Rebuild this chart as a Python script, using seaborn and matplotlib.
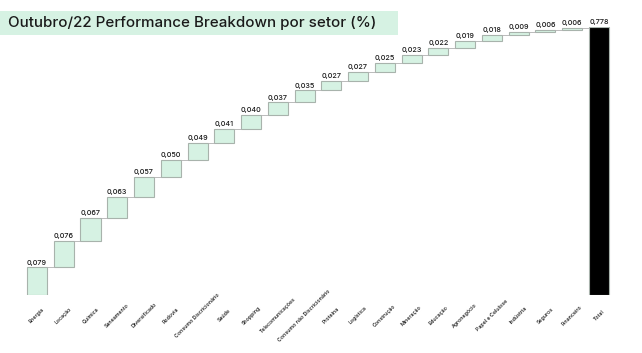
import matplotlib
matplotlib.use("Agg")
import matplotlib.pyplot as plt
import seaborn as sns
import numpy as np
import pandas as pd
from matplotlib.patches import Rectangle

sectors = ["Energia", "Locação", "Química", "Saneamento", "Diversificado", "Rodovia",
           "Consumo Discricionário", "Saúde", "Shopping", "Telecomunicações",
           "Consumo não Discricionário", "Proteína", "Logística", "Construção",
           "Mineração", "Educação", "Agronegócio", "Papel e Celulose", "Indústria",
           "Seguros", "Financeiro"]
values = [0.079, 0.076, 0.067, 0.063, 0.057, 0.050, 0.049, 0.041, 0.040, 0.037,
          0.035, 0.027, 0.027, 0.025, 0.023, 0.022, 0.019, 0.018, 0.009, 0.006, 0.006]
total_label = "Total"
total_value = 0.778

sns.set_theme(style="white")
plt.rcParams['font.family'] = ['DejaVu Sans']

cats = sectors + [total_label]
vals = values + [total_value]
cum = np.cumsum(values)
bottoms = list(np.concatenate([[0], cum[:-1]])) + [0.0]
tops = [b + v for b, v in zip(bottoms, vals)]
df = pd.DataFrame({"setor": cats, "valor": vals})

fig = plt.figure(figsize=(6.42, 3.53), dpi=100)
ax = fig.add_axes([0.0368, 0.1657, 0.917, 0.7578])

sns.barplot(data=df, x="setor", y="valor", color="#d6f2e3", saturation=1,
            bottom=np.array(bottoms), width=0.75, edgecolor="#a8b3ac", linewidth=0.8,
            ax=ax, errorbar=None)
ax.patches[-1].set_facecolor("#000000")

# connectors
for i in range(len(cats) - 1):
    ax.plot([i + 0.375, i + 1 - 0.375], [tops[i], tops[i]], color="#b0b0b0", lw=0.6)

for i, (t, v) in enumerate(zip(tops, vals)):
    ax.text(i, t + 0.005, f"{v:.3f}".replace(".", ","), ha="center", va="bottom",
            fontsize=5.2, color="#1a1a1a", clip_on=False, family=["Inter", "DejaVu Sans"],
            fontweight="medium")

ax.set_xlim(-0.5, len(cats) - 0.5)
ax.set_ylim(0, total_value)
ax.set_xlabel("")
ax.set_ylabel("")
ax.set_yticks([])
ax.set_xticks(range(len(cats)))
ax.set_xticklabels(cats, rotation=45, ha="center", va="center", rotation_mode="anchor",
                   fontsize=3.8, color="#111111", family=["Inter", "DejaVu Sans"],
                   fontweight="medium")
ax.tick_params(axis="x", length=0, pad=15)
for s in ax.spines.values():
    s.set_visible(False)

fig.patches.append(Rectangle((0, 1 - 35/353), 398/642, 24/353, transform=fig.transFigure,
                             facecolor="#d6f2e3", edgecolor="none", zorder=0))
fig.text(8/642, 1 - 23/353, "Outubro/22 Performance Breakdown por setor (%)",
         fontsize=10.9, color="#1a1a1a", va="center", ha="left",
         family=["Inter", "DejaVu Sans"], fontweight="medium")

fig.savefig("out.png", dpi=100)
